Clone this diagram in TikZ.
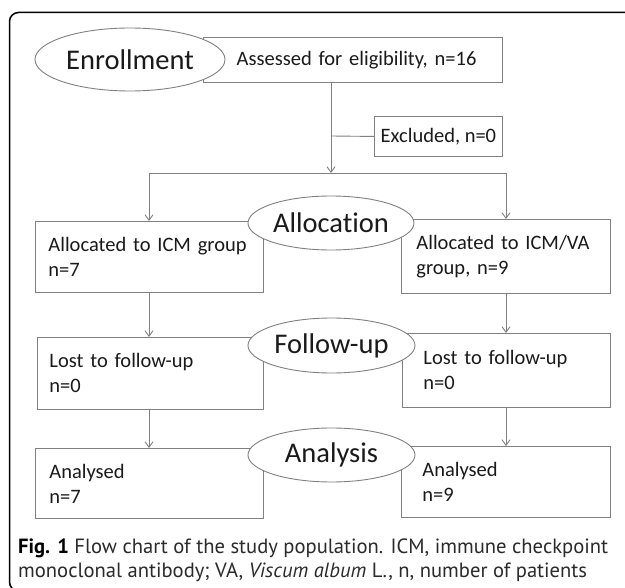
\documentclass[tikz,border=0pt]{standalone}
\usepackage{fontspec}
\setmainfont{Carlito}[Ligatures=NoCommon]
\newfontfamily\capfont{PT Sans}
\usetikzlibrary{shapes.geometric,arrows.meta}
\definecolor{linegray}{HTML}{808080}
\definecolor{txt}{HTML}{1A1A1A}
\definecolor{captxt}{HTML}{2A2A2A}
\begin{document}
\begin{tikzpicture}[x=1pt,y=-1pt,
  boxs/.style={draw=linegray,line width=0.9pt,fill=white,rectangle,inner ysep=0pt,text=txt,
    font=\fontsize{20.5}{25}\selectfont,anchor=north west,align=left},
  ell/.style={draw=linegray,line width=0.9pt,fill=white,ellipse,inner sep=0pt,text=txt,
    font=\fontsize{28.5}{30}\selectfont},
  conn/.style={draw=linegray,line width=0.9pt},
  arr/.style={conn,-{Straight Barb[length=5.5pt,width=8pt]}}
]
\useasboundingbox (0,0) rectangle (625,588);
\clip (0,0) rectangle (625,588);
\fill[white] (0,0) rectangle (625,588);
% frame
\draw[line width=1.5pt,rounded corners=9pt] (9.5,12.5) rectangle (650,591);

% enrollment
\node[boxs,minimum width=299,minimum height=45,text width=247,inner xsep=26,align=right] (assess) at (203,37) {Assessed for eligibility, n=16};
\node[ell,minimum width=190,minimum height=63] (enroll) at (130,59.5) {Enrollment};
\node[boxs,minimum width=128,minimum height=40,inner xsep=0,align=center] (excl) at (374,116) {Excluded, n=0};

% allocation
\node[boxs,minimum width=228,minimum height=71,text width=202,inner xsep=13] (alloc1) at (35,221) {Allocated to ICM group\\n=7};
\node[boxs,minimum width=209,minimum height=74,text width=179,inner xsep=15] (alloc2) at (401,219) {Allocated to ICM/VA\\group, n=9};
\node[ell,minimum width=166,minimum height=54] (allocation) at (331,223) {Allocation};

% follow-up
\node[boxs,minimum width=226,minimum height=72,text width=202,inner xsep=12] (follow1) at (37,337) {Lost to follow-up\\n=0};
\node[boxs,minimum width=208,minimum height=74,text width=166,inner xsep=21] (follow2) at (402,333) {Lost to follow-up\\n=0};
\node[ell,minimum width=167,minimum height=55] (followup) at (331.5,345.5) {Follow-up};

% analysis
\node[boxs,minimum width=228,minimum height=70,text width=200,inner xsep=14] (anal1) at (35,448) {Analysed\\n=7};
\node[boxs,minimum width=209,minimum height=71,text width=167,inner xsep=21] (anal2) at (401,446) {Analysed\\n=9};
\node[ell,minimum width=167,minimum height=54] (analysis) at (331.5,455) {Analysis};

% connectors
\coordinate (split) at (331,173);
\coordinate (exj) at (331,136);
\coordinate (splitL) at (149,173);
\coordinate (splitR) at (506,173);
\draw[arr] (split |- assess.south) -- (split);
\draw[conn] (exj) -- (excl.west);
\draw[conn] (splitL) -- (splitR);
\draw[arr] (splitL) -- (splitL |- alloc1.north);
\draw[arr] (splitR) -- (splitR |- alloc2.north);
\draw[arr] (splitL |- alloc1.south) -- (splitL |- follow1.north);
\draw[arr] (splitR |- alloc2.south) -- (splitR |- follow2.north);
\draw[arr] (splitL |- follow1.south) -- (splitL |- anal1.north);
\draw[arr] (splitR |- follow2.south) -- (splitR |- anal2.north);

% caption
\node[anchor=north west,align=left,inner sep=0pt,text=captxt,
  font=\capfont\fontsize{20.6}{24}\selectfont] (caption) at (18,539)
  {\textbf{\color{black}Fig. 1} Flow chart of the study population. ICM, immune checkpoint\\
   monoclonal antibody; VA, \textit{Viscum album} L., n, number of patients};
\end{tikzpicture}
\end{document}
